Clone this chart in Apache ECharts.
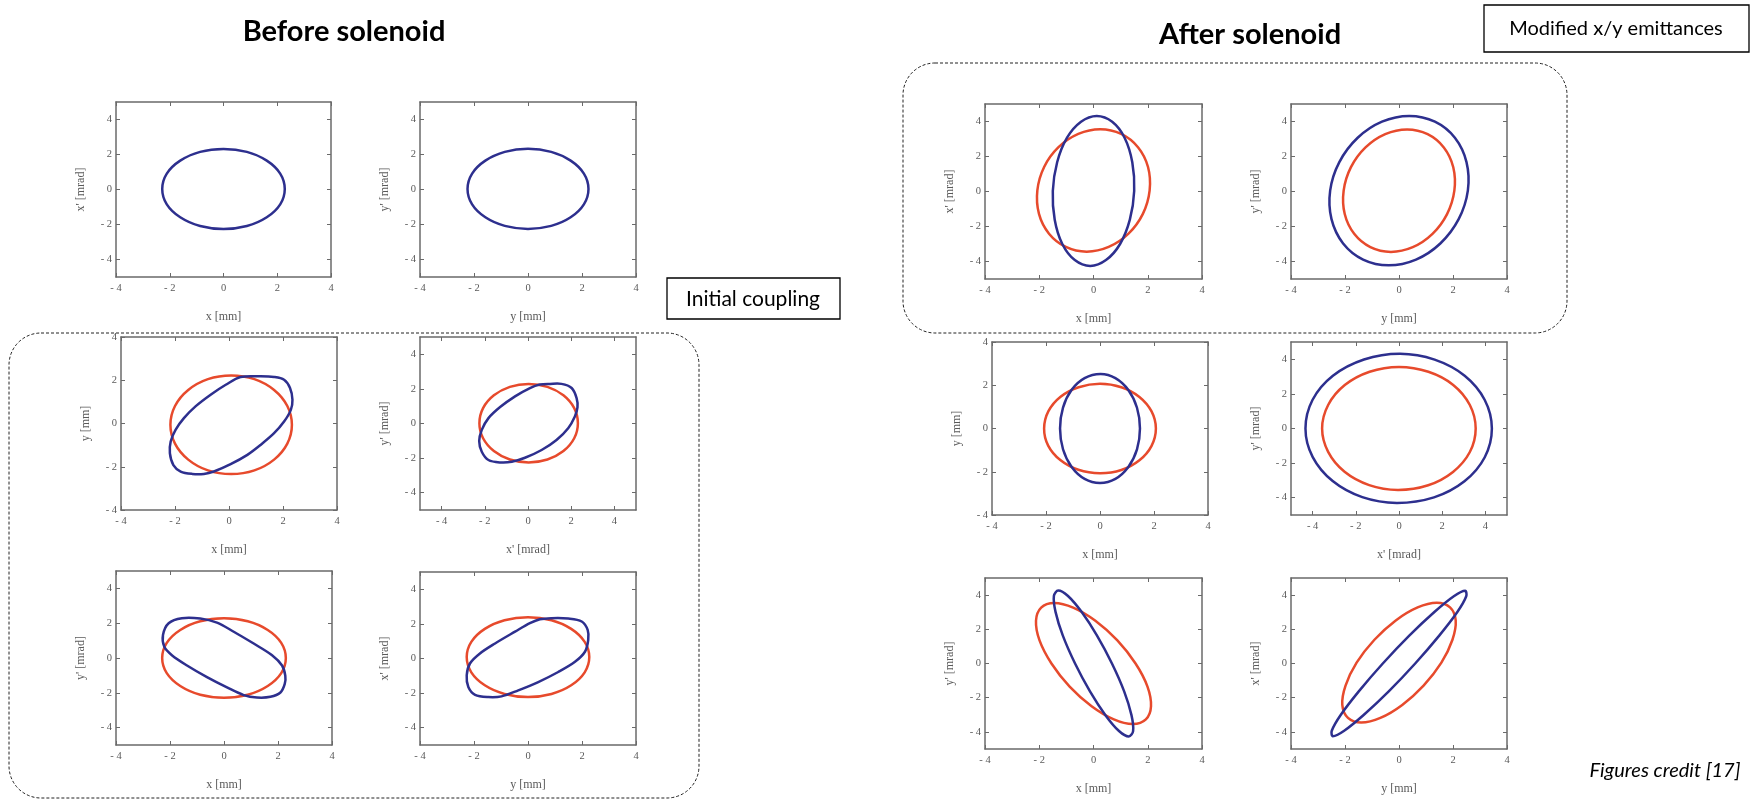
<!DOCTYPE html>
<html>
<head>
<meta charset="utf-8">
<script src="https://cdn.jsdelivr.net/npm/echarts@6/dist/echarts.min.js"></script>
<style>
  html, body { margin: 0; padding: 0; background: #ffffff; }
  #chart { width: 1752px; height: 800px; }
</style>
</head>
<body>
<div id="chart"></div>
<script>
// ---------- axis ticks and ranges ----------
const tickValues = [-4, -2, 0, 2, 4];
const rangeNarrow = [-4, 4];
const rangeWide = [-5, 5];

// ---------- phase-space contours, before the solenoid ----------
// x' vs x
const beforeXXpBlue = [[0,2.32],[0.87,2.15],[1.61,1.65],[2.11,0.91],[2.28,0.03],[2.11,-0.85],[1.61,-1.59],[0.87,-2.09],[0,-2.26],[-0.87,-2.09],[-1.61,-1.59],[-2.11,-0.85],[-2.28,0.03],[-2.11,0.91],[-1.61,1.65],[-0.87,2.15]];
// y' vs y
const beforeYYpBlue = [[0,2.33],[0.86,2.15],[1.58,1.65],[2.07,0.91],[2.24,0.03],[2.07,-0.85],[1.58,-1.59],[0.86,-2.08],[0,-2.25],[-0.86,-2.08],[-1.58,-1.59],[-2.07,-0.85],[-2.24,0.03],[-2.07,0.91],[-1.58,1.65],[-0.86,2.15]];
// y vs x
const beforeXYRed = [[0.08,2.22],[0.94,2.05],[1.67,1.55],[2.16,0.81],[2.33,-0.06],[2.16,-0.93],[1.67,-1.67],[0.94,-2.17],[0.08,-2.34],[-0.78,-2.17],[-1.51,-1.67],[-2.0,-0.93],[-2.17,-0.06],[-2.0,0.81],[-1.51,1.55],[-0.78,2.05]];
const beforeXYBlue = [[0.43,2.15],[1.17,2.18],[1.67,2.15],[2.04,2.02],[2.26,1.64],[2.35,1.1],[2.29,0.63],[2.04,0.09],[1.67,-0.45],[1.17,-0.99],[0.68,-1.45],[0.06,-1.88],[-0.56,-2.22],[-0.93,-2.33],[-1.36,-2.33],[-1.79,-2.22],[-2.06,-1.92],[-2.19,-1.37],[-2.16,-0.83],[-1.98,-0.29],[-1.67,0.25],[-1.24,0.79],[-0.68,1.33],[-0.12,1.79]];
// y' vs x'
const beforeXpYpRed = [[0.03,2.29],[0.9,2.12],[1.64,1.63],[2.14,0.89],[2.31,0.02],[2.14,-0.85],[1.64,-1.59],[0.9,-2.08],[0.03,-2.25],[-0.84,-2.08],[-1.58,-1.59],[-2.08,-0.85],[-2.25,0.02],[-2.08,0.89],[-1.58,1.63],[-0.84,2.12]];
const beforeXpYpBlue = [[1.02,2.29],[1.55,2.29],[2.02,2.05],[2.25,1.47],[2.29,0.93],[2.17,0.41],[1.86,-0.27],[1.32,-0.95],[0.63,-1.53],[-0.14,-1.98],[-0.75,-2.21],[-1.29,-2.25],[-1.83,-2.11],[-2.14,-1.63],[-2.26,-1.01],[-2.14,-0.37],[-1.83,0.31],[-1.29,0.95],[-0.6,1.57],[0.09,2.05],[0.55,2.25]];
// y' vs x
const beforeXYpRed = [[0,2.28],[0.88,2.11],[1.62,1.61],[2.12,0.87],[2.29,0],[2.12,-0.87],[1.62,-1.61],[0.88,-2.11],[0,-2.28],[-0.88,-2.11],[-1.62,-1.61],[-2.12,-0.87],[-2.29,0],[-2.12,0.87],[-1.62,1.61],[-0.88,2.11]];
const beforeXYpBlue = [[-1.56,2.29],[-2.05,2.0],[-2.26,1.32],[-2.21,0.64],[-1.93,0.16],[-1.37,-0.43],[-0.63,-1.1],[0.11,-1.69],[0.73,-2.13],[1.22,-2.27],[1.72,-2.23],[2.09,-1.98],[2.25,-1.49],[2.27,-1.01],[2.15,-0.43],[1.78,0.16],[1.1,0.83],[0.36,1.51],[-0.26,2.03],[-0.88,2.27]];
// x' vs y
const beforeYXpRed = [[0,2.39],[0.87,2.21],[1.6,1.71],[2.1,0.96],[2.27,0.08],[2.1,-0.8],[1.6,-1.55],[0.87,-2.05],[0,-2.23],[-0.87,-2.05],[-1.6,-1.55],[-2.1,-0.8],[-2.27,0.08],[-2.1,0.96],[-1.6,1.71],[-0.87,2.21]];
const beforeYXpBlue = [[0.88,2.33],[1.49,2.31],[1.99,2.14],[2.21,1.65],[2.23,1.07],[2.11,0.39],[1.74,-0.19],[1.12,-0.78],[0.38,-1.36],[-0.36,-1.84],[-0.98,-2.19],[-1.47,-2.23],[-1.96,-2.1],[-2.21,-1.65],[-2.27,-0.97],[-2.15,-0.29],[-1.78,0.29],[-1.22,0.87],[-0.48,1.55],[0.07,2.04],[0.44,2.27]];

// ---------- phase-space contours, after the solenoid ----------
// x' vs x
const afterXXpRed = [[0.25,3.56],[1.02,3.29],[1.64,2.53],[2.01,1.4],[2.07,0.06],[1.82,-1.28],[1.29,-2.41],[0.56,-3.17],[-0.25,-3.44],[-1.02,-3.17],[-1.64,-2.41],[-2.01,-1.28],[-2.07,0.06],[-1.82,1.4],[-1.29,2.53],[-0.56,3.29]];
const afterXXpBlue = [[0.12,4.31],[0.69,3.98],[1.15,3.06],[1.43,1.67],[1.5,0.03],[1.34,-1.61],[0.98,-3.0],[0.46,-3.92],[-0.12,-4.25],[-0.69,-3.92],[-1.15,-3.0],[-1.43,-1.61],[-1.5,0.03],[-1.34,1.67],[-0.98,3.06],[-0.46,3.98]];
// y' vs y
const afterYYpRed = [[0.3,3.55],[1.06,3.28],[1.66,2.52],[2.01,1.39],[2.05,0.05],[1.78,-1.29],[1.24,-2.42],[0.51,-3.18],[-0.3,-3.45],[-1.06,-3.18],[-1.66,-2.42],[-2.01,-1.29],[-2.05,0.05],[-1.78,1.39],[-1.24,2.52],[-0.51,3.28]];
const afterYYpBlue = [[0.38,4.32],[1.33,3.99],[2.07,3.07],[2.5,1.68],[2.55,0.05],[2.21,-1.58],[1.53,-2.97],[0.63,-3.89],[-0.38,-4.22],[-1.33,-3.89],[-2.07,-2.97],[-2.5,-1.58],[-2.55,0.05],[-2.21,1.68],[-1.53,3.07],[-0.63,3.99]];
// y vs x
const afterXYRed = [[0,2.07],[0.79,1.91],[1.46,1.46],[1.91,0.79],[2.07,0],[1.91,-0.8],[1.46,-1.47],[0.79,-1.92],[0,-2.07],[-0.8,-1.91],[-1.47,-1.46],[-1.92,-0.79],[-2.07,0],[-1.91,0.8],[-1.46,1.47],[-0.79,1.91]];
const afterXYBlue = [[0.02,2.52],[0.57,2.33],[1.05,1.78],[1.37,0.96],[1.48,0],[1.37,-0.97],[1.05,-1.78],[0.57,-2.33],[0,-2.52],[-0.57,-2.33],[-1.05,-1.78],[-1.37,-0.96],[-1.48,0],[-1.37,0.97],[-1.05,1.79],[-0.57,2.33]];
// y' vs x'
const afterXpYpRed = [[0,3.56],[1.36,3.28],[2.51,2.52],[3.28,1.36],[3.55,0],[3.28,-1.36],[2.5,-2.51],[1.35,-3.28],[-0.05,-3.55],[-1.38,-3.27],[-2.52,-2.5],[-3.28,-1.35],[-3.56,0],[-3.28,1.36],[-2.51,2.51],[-1.36,3.28]];
const afterXpYpBlue = [[0.05,4.32],[1.65,3.98],[3.04,3.05],[3.97,1.65],[4.3,0],[3.97,-1.66],[3.03,-3.05],[1.62,-3.98],[-0.1,-4.3],[-1.7,-3.97],[-3.07,-3.04],[-4.0,-1.64],[-4.33,0],[-4.0,1.66],[-3.06,3.05],[-1.62,3.99]];
// y' vs x
const afterXYpRed = [[-1.45,3.54],[-0.75,3.27],[0.07,2.5],[0.88,1.35],[1.55,0],[1.99,-1.35],[2.12,-2.5],[1.93,-3.27],[1.45,-3.54],[0.75,-3.27],[-0.07,-2.5],[-0.88,-1.35],[-1.55,0],[-1.99,1.35],[-2.12,2.5],[-1.93,3.27]];
const afterXYpBlue = [[-1.3,4.27],[-0.94,3.95],[-0.44,3.02],[0.13,1.63],[0.68,0],[1.13,-1.63],[1.4,-3.02],[1.46,-3.95],[1.3,-4.27],[0.94,-3.95],[0.44,-3.02],[-0.13,-1.63],[-0.68,0],[-1.13,1.63],[-1.4,3.02],[-1.46,3.95]];
// x' vs y
const afterYXpRed = [[1.4,3.55],[1.89,3.28],[2.1,2.52],[1.98,1.39],[1.57,0.05],[0.91,-1.29],[0.12,-2.42],[-0.69,-3.18],[-1.4,-3.45],[-1.89,-3.18],[-2.1,-2.42],[-1.98,-1.29],[-1.57,0.05],[-0.91,1.39],[-0.12,2.52],[0.69,3.28]];
const afterYXpBlue = [[2.45,4.25],[2.49,3.93],[2.16,3.01],[1.49,1.63],[0.6,0],[-0.38,-1.63],[-1.31,-3.01],[-2.03,-3.93],[-2.45,-4.25],[-2.49,-3.93],[-2.16,-3.01],[-1.49,-1.63],[-0.6,0],[0.38,1.63],[1.31,3.01],[2.03,3.93]];

// ---------- panels ----------
const MM_X = 'x [mm]', MM_Y = 'y [mm]', MRAD_X = "x' [mrad]", MRAD_Y = "y' [mrad]";
const panels = [
  { xName: MM_X,   yName: MRAD_X, xr: rangeNarrow, yr: rangeWide,   red: null,           blue: beforeXXpBlue },
  { xName: MM_Y,   yName: MRAD_Y, xr: rangeNarrow, yr: rangeWide,   red: null,           blue: beforeYYpBlue },
  { xName: MM_X,   yName: MM_Y,   xr: rangeNarrow, yr: rangeNarrow, red: beforeXYRed,    blue: beforeXYBlue },
  { xName: MRAD_X, yName: MRAD_Y, xr: rangeWide,   yr: rangeWide,   red: beforeXpYpRed,  blue: beforeXpYpBlue },
  { xName: MM_X,   yName: MRAD_Y, xr: rangeNarrow, yr: rangeWide,   red: beforeXYpRed,   blue: beforeXYpBlue },
  { xName: MM_Y,   yName: MRAD_X, xr: rangeNarrow, yr: rangeWide,   red: beforeYXpRed,   blue: beforeYXpBlue },
  { xName: MM_X,   yName: MRAD_X, xr: rangeNarrow, yr: rangeWide,   red: afterXXpRed,    blue: afterXXpBlue },
  { xName: MM_Y,   yName: MRAD_Y, xr: rangeNarrow, yr: rangeWide,   red: afterYYpRed,    blue: afterYYpBlue },
  { xName: MM_X,   yName: MM_Y,   xr: rangeNarrow, yr: rangeNarrow, red: afterXYRed,     blue: afterXYBlue },
  { xName: MRAD_X, yName: MRAD_Y, xr: rangeWide,   yr: rangeWide,   red: afterXpYpRed,   blue: afterXpYpBlue },
  { xName: MM_X,   yName: MRAD_Y, xr: rangeNarrow, yr: rangeWide,   red: afterXYpRed,    blue: afterXYpBlue },
  { xName: MM_Y,   yName: MRAD_X, xr: rangeNarrow, yr: rangeWide,   red: afterYXpRed,    blue: afterYXpBlue }
];

// plot-box placement: [left, top, width, height]
const boxes = [
  [116, 102, 215, 175], [420, 102, 216, 175],
  [121, 337, 216, 173], [420, 337, 216, 173],
  [116, 571, 216, 174], [420, 572, 216, 173],
  [985, 104, 217, 175], [1291, 104, 216, 175],
  [992, 342, 216, 173], [1291, 342, 216, 173],
  [985, 578, 217, 171], [1291, 578, 216, 171]
];

const RED = '#e74a2c';
const BLUE = '#2d2f8e';
const FRAME = '#6a6a6a';
const LABEL = '#5a5a5a';
const SERIF = '"Liberation Serif", "DejaVu Serif", serif';
const SANS = 'Lato, "Open Sans", sans-serif';

const fmtTick = v => (v < 0 ? '- ' + (-v) : String(v));

const grids = [], xAxes = [], yAxes = [], series = [];

function axisPair(dim, gi, range, name) {
  const main = {
    gridIndex: gi, type: 'value', min: range[0], max: range[1],
    position: dim === 'x' ? 'bottom' : 'left',
    name: name, nameLocation: 'middle',
    nameGap: dim === 'x' ? 34 : 29,
    nameTextStyle: { fontFamily: SERIF, fontSize: 12, color: LABEL },
    axisLine: { show: true, onZero: false, lineStyle: { color: FRAME, width: 1.5 } },
    axisTick: { show: true, inside: true, length: 4, customValues: tickValues, lineStyle: { color: FRAME, width: 1 } },
    axisLabel: {
      show: true, customValues: tickValues, showMinLabel: true, showMaxLabel: true,
      margin: dim === 'x' ? 6 : 4, fontSize: 10.5, color: LABEL, fontFamily: SERIF, formatter: fmtTick
    },
    splitLine: { show: false }
  };
  const mirror = {
    gridIndex: gi, type: 'value', min: range[0], max: range[1],
    position: dim === 'x' ? 'top' : 'right',
    axisLine: { show: true, onZero: false, lineStyle: { color: FRAME, width: 1.5 } },
    axisTick: { show: true, inside: true, length: 4, customValues: tickValues, lineStyle: { color: FRAME, width: 1 } },
    axisLabel: { show: false },
    splitLine: { show: false }
  };
  return [main, mirror];
}

// closed contour drawn through the cartesian scales of one panel
function contour(points, color, gi) {
  return {
    type: 'custom',
    xAxisIndex: 2 * gi,
    yAxisIndex: 2 * gi,
    data: points,
    encode: { x: 0, y: 1 },
    silent: true,
    clip: false,
    renderItem: function (params, api) {
      if (params.dataIndex !== 0) return null;
      const pts = points.map(p => api.coord(p));
      return {
        type: 'polygon',
        shape: { points: pts, smooth: 0.33 },
        style: { fill: 'none', stroke: color, lineWidth: 2.5 }
      };
    }
  };
}

panels.forEach((p, i) => {
  const b = boxes[i];
  grids.push({ left: b[0], top: b[1], width: b[2], height: b[3], show: false, containLabel: false, outerBoundsMode: 'none' });
  xAxes.push(...axisPair('x', i, p.xr, p.xName));
  yAxes.push(...axisPair('y', i, p.yr, p.yName));
  if (p.red) series.push(contour(p.red, RED, i));
  series.push(contour(p.blue, BLUE, i));
});

const graphic = [
  { type: 'text', x: 344, y: 32, style: { text: 'Before solenoid', font: 'bold 29px ' + SANS, fill: '#000', align: 'center', verticalAlign: 'middle' } },
  { type: 'text', x: 1250, y: 35, style: { text: 'After solenoid', font: 'bold 29px ' + SANS, fill: '#000', align: 'center', verticalAlign: 'middle' } },
  // grouped panels
  { type: 'rect', shape: { x: 9, y: 333, width: 690, height: 465, r: 32 }, style: { fill: 'none', stroke: '#222', lineWidth: 1, lineDash: [3, 2] } },
  { type: 'rect', shape: { x: 903, y: 63, width: 664, height: 270, r: 32 }, style: { fill: 'none', stroke: '#222', lineWidth: 1, lineDash: [3, 2] } },
  // annotation boxes
  { type: 'rect', shape: { x: 667, y: 278, width: 173, height: 41 }, style: { fill: '#fff', stroke: '#000', lineWidth: 1.3 } },
  { type: 'text', x: 753, y: 299, style: { text: 'Initial coupling', font: '21px ' + SANS, fill: '#000', align: 'center', verticalAlign: 'middle' } },
  { type: 'rect', shape: { x: 1484, y: 5, width: 265, height: 47 }, style: { fill: '#fff', stroke: '#000', lineWidth: 1.3 } },
  { type: 'text', x: 1616, y: 29, style: { text: 'Modified x/y emittances', font: '20px ' + SANS, fill: '#000', align: 'center', verticalAlign: 'middle' } },
  { type: 'text', x: 1665, y: 771, style: { text: 'Figures credit [17]', font: 'italic 20px ' + SANS, fill: '#000', align: 'center', verticalAlign: 'middle' } }
];

const chart = echarts.init(document.getElementById('chart'), null, { renderer: 'canvas' });
chart.setOption({
  backgroundColor: '#ffffff',
  animation: false,
  grid: grids,
  xAxis: xAxes,
  yAxis: yAxes,
  series: series,
  graphic: graphic
});
</script>
</body>
</html>
